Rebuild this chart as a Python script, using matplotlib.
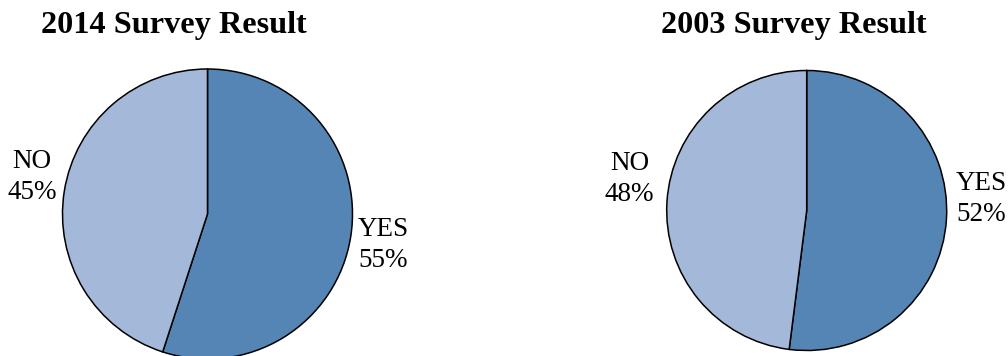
import matplotlib.pyplot as plt

# survey answers, in percent
answers = ['YES', 'NO']
results_2014 = [55, 45]
results_2003 = [52, 48]
titles = ['2014 Survey Result', '2003 Survey Result']

colors = ['#5585B5', '#A4B8D9']

plt.rcParams['font.family'] = ['Liberation Serif', 'DejaVu Serif']

W, H = 1008, 356
fig = plt.figure(figsize=(W / 100, H / 100), dpi=100)


def draw_pie(values, title, cx, cy, r, title_x, label_pos):
    """Draw one pie with centre (cx, cy) and radius r given in pixels."""
    ax = fig.add_axes([(cx - r) / W, (H - cy - r) / H, 2 * r / W, 2 * r / H])
    wedges, _ = ax.pie(values, colors=colors, startangle=90, counterclock=False,
                       radius=1, wedgeprops=dict(edgecolor='black', linewidth=1.1))
    ax.set_xlim(-1, 1)
    ax.set_ylim(-1, 1)
    ax.set_aspect('equal')
    ax.axis('off')
    for w in wedges:
        w.set_clip_on(False)
    for name, val, (x, y, ha) in zip(answers, values, label_pos):
        ax.text(x, y, f'{name}\n{val}%', ha=ha, va='center', multialignment='center',
                fontsize=19.5, linespacing=1.35, clip_on=False)
    fig.text(title_x / W, (H - 33) / H, title, ha='center', va='baseline',
             fontsize=23.2, fontweight='bold')


draw_pie(results_2014, titles[0], 207.5, 214, 145, 174,
         [(1.038, -0.214, 'left'), (-1.038, 0.255, 'right')])
draw_pie(results_2003, titles[1], 806.7, 210.5, 140, 793.5,
         [(1.064, 0.082, 'left'), (-1.09, 0.225, 'right')])

fig.savefig('out.png', dpi=100)
